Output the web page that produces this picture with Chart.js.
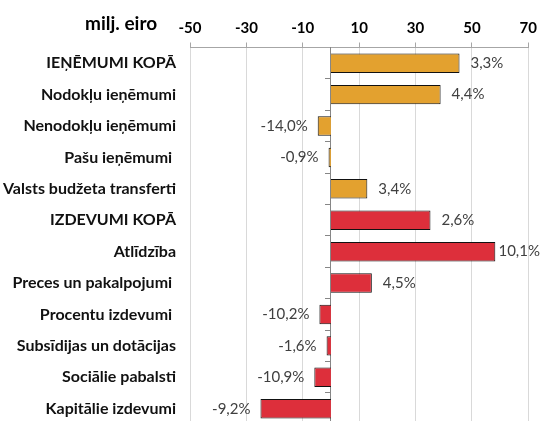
<!DOCTYPE html>
<html>
<head>
<meta charset="utf-8">
<script src="https://cdn.jsdelivr.net/npm/chart.js@4"></script>
<style>
  html, body { margin: 0; padding: 0; background: #fff; overflow: hidden; }
  #wrap { position: relative; width: 542px; height: 421px; overflow: hidden; }
  #unit { position: absolute; left: 85px; top: 11px; font: bold 19px Lato, sans-serif; color: #000; }
  canvas { position: absolute; left: 0; top: 0; }
</style>
</head>
<body>
<div id="wrap">
  <canvas id="budgetChart" width="542" height="448"></canvas>
  <div id="unit">milj. eiro</div>
</div>
<script>
// categories (first 5 are revenue, the rest expenditure)
const categories = [
  "IEŅĒMUMI KOPĀ",
  "Nodokļu ieņēmumi",
  "Nenodokļu ieņēmumi",
  "Pašu ieņēmumi ",
  "Valsts budžeta transferti",
  "IZDEVUMI KOPĀ",
  "Atlīdzība",
  "Preces un pakalpojumi ",
  "Procentu izdevumi ",
  "Subsīdijas un dotācijas",
  "Sociālie pabalsti",
  "Kapitālie izdevumi",
];
const revenueCount = 5;

// change, milj. eiro
const changeMln = [45.6, 38.9, -4.7, -0.85, 12.9, 35.3, 58.3, 14.5, -4.1, -1.55, -5.9, -25.0];
// change, %
const changePct = [3.3, 4.4, -14.0, -0.9, 3.4, 2.6, 10.1, 4.5, -10.2, -1.6, -10.9, -9.2];

const xTicks = [-50, -30, -10, 10, 30, 50, 70];

const fmtPct = (v) => v.toFixed(1).replace(".", ",") + "%";

// percent labels next to each bar
const barLabels = {
  id: "barLabels",
  afterDatasetsDraw(chart) {
    const { ctx } = chart;
    const meta = chart.getDatasetMeta(0);
    ctx.save();
    ctx.font = "15px Lato, sans-serif";
    ctx.fillStyle = "#404040";
    ctx.textBaseline = "middle";
    meta.data.forEach((bar, i) => {
      const txt = fmtPct(changePct[i]);
      const w = ctx.measureText(txt).width;
      if (changeMln[i] >= 0) {
        let x = bar.x + 11;
        if (x + w > chart.width - 2) x = chart.width - 2 - w;
        ctx.textAlign = "left";
        ctx.fillText(txt, x, bar.y);
      } else {
        ctx.textAlign = "right";
        ctx.fillText(txt, bar.x - 10, bar.y);
      }
    });
    ctx.restore();
  },
};

const ctx = document.getElementById("budgetChart");

new Chart(ctx, {
  type: "bar",
  data: {
    labels: categories,
    datasets: [
      {
        data: changeMln,
        backgroundColor: (c) => (c.dataIndex < revenueCount ? "#E3A12F" : "#DD2F3B"),
        borderColor: "#111",
        borderWidth: 1,
        barPercentage: 0.62,
        categoryPercentage: 1,
      },
    ],
  },
  options: {
    indexAxis: "y",
    responsive: false,
    animation: false,
    devicePixelRatio: 1,
    layout: { padding: { top: 0, right: 12, bottom: 6, left: 0 } },
    plugins: { legend: { display: false }, tooltip: { enabled: false } },
    scales: {
      x: {
        position: "top",
        min: -50,
        max: 70,
        afterBuildTicks: (s) => {
          s.ticks = xTicks.map((v) => ({ value: v }));
        },
        afterFit: (s) => {
          s.height = 47.5;
        },
        ticks: {
          font: { family: "Lato", size: 15, weight: "bold" },
          color: "#000",
          padding: 5,
        },
        grid: { color: "#d9d9d9", tickColor: "#a6a6a6", tickLength: 5 },
        border: { color: "#a6a6a6" },
      },
      y: {
        afterFit: (s) => {
          s.width = 190;
        },
        grid: { display: false, drawTicks: false },
        border: { display: false },
        ticks: {
          font: { family: "Lato", size: 16, weight: "bold" },
          color: "#111",
          padding: 14,
        },
      },
      y2: {
        type: "category",
        position: { x: 0 },
        offset: true,
        grid: { offset: true, drawOnChartArea: false, tickLength: 5, color: "#868686" },
        border: { color: "#868686" },
        ticks: { display: false },
      },
    },
  },
  plugins: [barLabels],
});
</script>
</body>
</html>
